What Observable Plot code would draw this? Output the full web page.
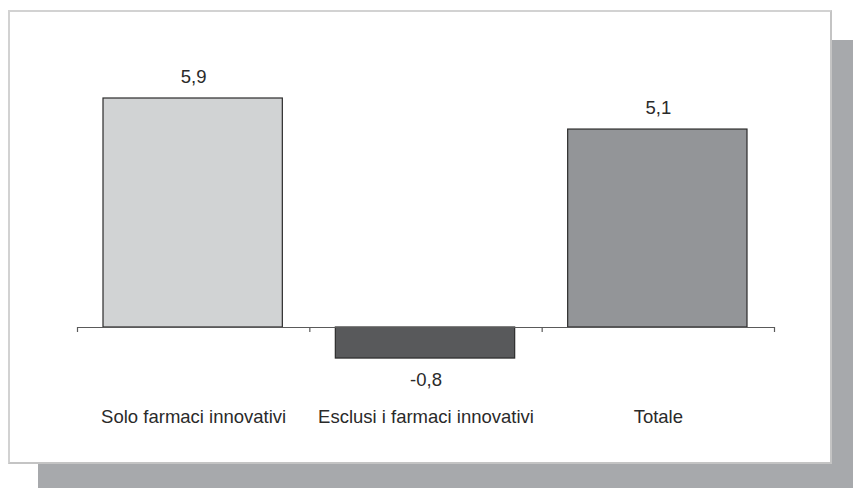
<!DOCTYPE html>
<html>
<head>
<meta charset="utf-8">
<script src="https://cdn.jsdelivr.net/npm/d3@7"></script>
<script src="https://cdn.jsdelivr.net/npm/@observablehq/plot@0.6"></script>
<style>
  html, body { margin: 0; padding: 0; background: #ffffff; }
  #wrap { position: relative; width: 853px; height: 488px; overflow: hidden; font-family: "Liberation Sans", Arial, sans-serif; }
  #shadow { position: absolute; left: 38px; top: 40px; width: 815px; height: 448px; background: #a7a9ac; }
  #panel { position: absolute; left: 8px; top: 10px; width: 824px; height: 454px; box-sizing: border-box; background: #ffffff; border: 2px solid #d2d2d2; border-right-color: #c4c4c4; border-bottom-color: #c4c4c4; }
  #chart { position: absolute; left: 0; top: 0; }
</style>
</head>
<body>
<div id="wrap">
  <div id="shadow"></div>
  <div id="panel"></div>
  <div id="chart"></div>
</div>
<script>
// Variazione percentuale della spesa
const categories = ["Solo farmaci innovativi", "Esclusi i farmaci innovativi", "Totale"];
const values = [5.9, -0.8, 5.1];
const barColors = ["#d1d3d4", "#58595b", "#939598"];

const data = categories.map((category, i) => ({category, index: i, value: values[i]}));

const itLocale = d3.formatLocale({decimal: ",", thousands: ".", grouping: [3], currency: ["", " €"], minus: "-"});
const fmt = itLocale.format(".1f");

const chart = Plot.plot({
  width: 853,
  height: 488,
  style: {background: "transparent", fontFamily: "'Liberation Sans', Arial, sans-serif", overflow: "visible"},
  x: {type: "linear", domain: [0, categories.length], range: [77, 774], axis: null},
  y: {domain: [0, d3.max(values)], range: [327, 98], axis: null},
  color: {domain: categories, range: barColors},
  marks: [
    Plot.rectY(data, {
      x1: "index",
      x2: d => d.index + 1,
      y: "value",
      fill: "category",
      stroke: "#2b2b2b",
      strokeWidth: 1.2,
      insetLeft: 26,
      insetRight: 27
    }),
    // baseline with separators between the categories
    Plot.ruleY([0], {x1: 0, x2: categories.length, stroke: "#5a5a5a", strokeWidth: 1.2}),
    Plot.ruleX(d3.range(categories.length + 1), {y1: 0, y2: 0, insetBottom: -5, stroke: "#5a5a5a", strokeWidth: 1.2}),
    // value labels
    Plot.text(data.filter(d => d.value >= 0), {
      x: d => d.index + 0.5,
      y: "value",
      text: d => fmt(d.value),
      dy: -21,
      fontSize: 18.5,
      fill: "#2a2a2a"
    }),
    Plot.text(data.filter(d => d.value < 0), {
      x: d => d.index + 0.5,
      y: "value",
      text: d => fmt(d.value),
      dy: 22,
      fontSize: 18.5,
      fill: "#2a2a2a"
    }),
    // category labels
    Plot.text(data, {
      x: d => d.index + 0.5,
      y: 0,
      text: "category",
      dy: 90,
      fontSize: 18.5,
      fill: "#2a2a2a"
    })
  ]
});

document.getElementById("chart").appendChild(chart);
</script>
</body>
</html>
